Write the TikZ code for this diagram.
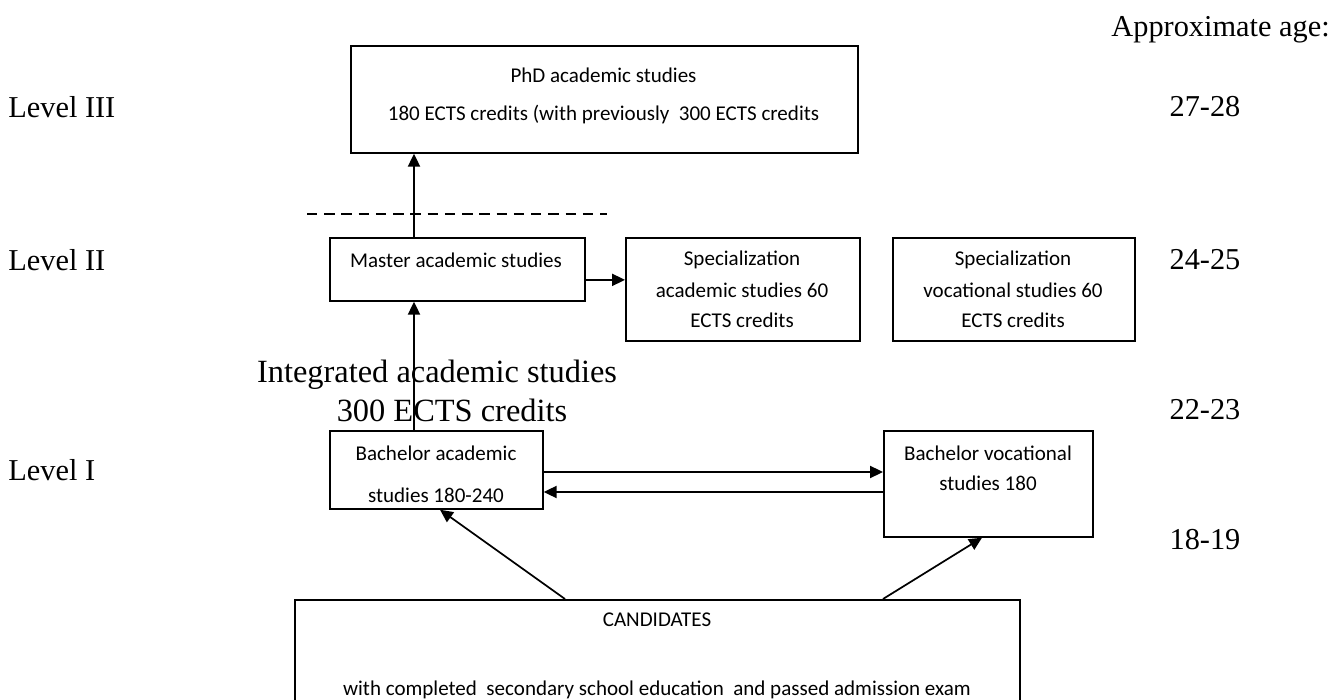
\documentclass[tikz,border=0pt]{standalone}
\usepackage{fontspec}
\setmainfont{Liberation Serif}
\newfontfamily\boxfont{Carlito}
\usetikzlibrary{arrows.meta}
\begin{document}
\begin{tikzpicture}[x=0.58pt,y=-0.58pt,
  box/.style={draw,line width=1pt,inner sep=0pt,anchor=north west},
  btxt/.style={font=\boxfont\fontsize{12.2}{14}\selectfont,inner sep=0pt,anchor=center},
  stxt/.style={font=\fontsize{17.6}{21}\selectfont,inner sep=0pt},
  itxt/.style={font=\fontsize{18.8}{22}\selectfont,inner sep=0pt},
  arr/.style={line width=1pt,-{Triangle[length=7.5pt,width=7pt]}}]
\useasboundingbox (0,0) rectangle (1332,700);
\begin{scope}
\clip (0,0) rectangle (1332,700);
% boxes
\node[box,minimum width=294.06pt,minimum height=62.06pt] (phd) at (350,45) {};
\node[box,minimum width=147.9pt,minimum height=36.54pt] (master) at (329,237) {};
\node[box,minimum width=135.72pt,minimum height=59.74pt] (speca) at (625,237) {};
\node[box,minimum width=140.36pt,minimum height=59.74pt] (specv) at (892,237) {};
\node[box,minimum width=123.54pt,minimum height=45.24pt] (bacha) at (329,430) {};
\node[box,minimum width=121.22pt,minimum height=61.48pt] (bachv) at (883,430) {};
\node[box,minimum width=420.5pt,minimum height=63.8pt] (cand) at (294,599) {};
% box texts
\node[btxt] (t1) at (603.5,75) {PhD academic studies};
\node[btxt] (t2) at (603.5,115) {180 ECTS credits (with previously\ \ 300 ECTS credits};
\node[btxt] (t3) at (456,260) {Master academic studies};
\node[btxt] (t4) at (742,260) {Specialization};
\node[btxt] (t5) at (742,290) {academic studies 60};
\node[btxt] (t6) at (742,320) {ECTS credits};
\node[btxt] (t7) at (1013,260) {Specialization};
\node[btxt] (t8) at (1013,290) {vocational studies 60};
\node[btxt] (t9) at (1013,320) {ECTS credits};
\node[btxt] (t10) at (436,453) {Bachelor academic};
\node[btxt] (t11) at (436,495) {studies 180-240};
\node[btxt] (t12) at (988,453) {Bachelor vocational};
\node[btxt] (t13) at (988,483) {studies 180};
\node[btxt] (t14) at (657,620) {CANDIDATES};
\node[btxt] (t15) at (657,690) {with completed\ \ secondary school education\ \ and passed admission exam};
% connectors
\draw[arr] ([xshift=49.3pt]master.north west) -- ([xshift=49.3pt]master.north west |- phd.south);
\draw[arr] ([xshift=49.3pt]bacha.north west) -- ([xshift=49.3pt]bacha.north west |- master.south);
\draw[arr] ([yshift=-6.1pt]master.east) -- ([yshift=-6.1pt]master.east -| speca.west);
\draw[arr] ([yshift=-24.36pt]bacha.north east) -- ([yshift=-24.36pt]bacha.north east -| bachv.west);
\draw[arr] ([yshift=-35.96pt]bacha.north east -| bachv.west) -- ([yshift=-35.96pt]bacha.north east);
\draw[arr] ([xshift=157.18pt]cand.north west) -- ([xshift=64.38pt]bacha.south west);
\draw[arr] ([xshift=341.62pt]cand.north west) -- ([xshift=57.42pt]bachv.south west);
% dashed level separator
\coordinate (d1) at (307,214);
\coordinate (d2) at (607,214);
\draw[line width=1pt,dash pattern=on 6pt off 4pt] (d1) -- (d2);
% side labels
\node[stxt,anchor=west] (l3) at (8,107) {Level III};
\node[stxt,anchor=west] (l2) at (8,260) {Level II};
\node[stxt,anchor=west] (l1) at (8,470) {Level I};
\node[stxt,anchor=east] (age) at (1330,30) {Approximate age:};
\node[stxt] (a1) at (1205,107) {27-28};
\node[stxt] (a2) at (1205,260) {24-25};
\node[stxt] (a3) at (1205,410) {22-23};
\node[stxt] (a4) at (1205,540) {18-19};
\node[itxt] (int1) at (437,375) {Integrated academic studies};
\node[itxt] (int2) at (452,410) {300 ECTS credits};
\end{scope}
\end{tikzpicture}
\end{document}
